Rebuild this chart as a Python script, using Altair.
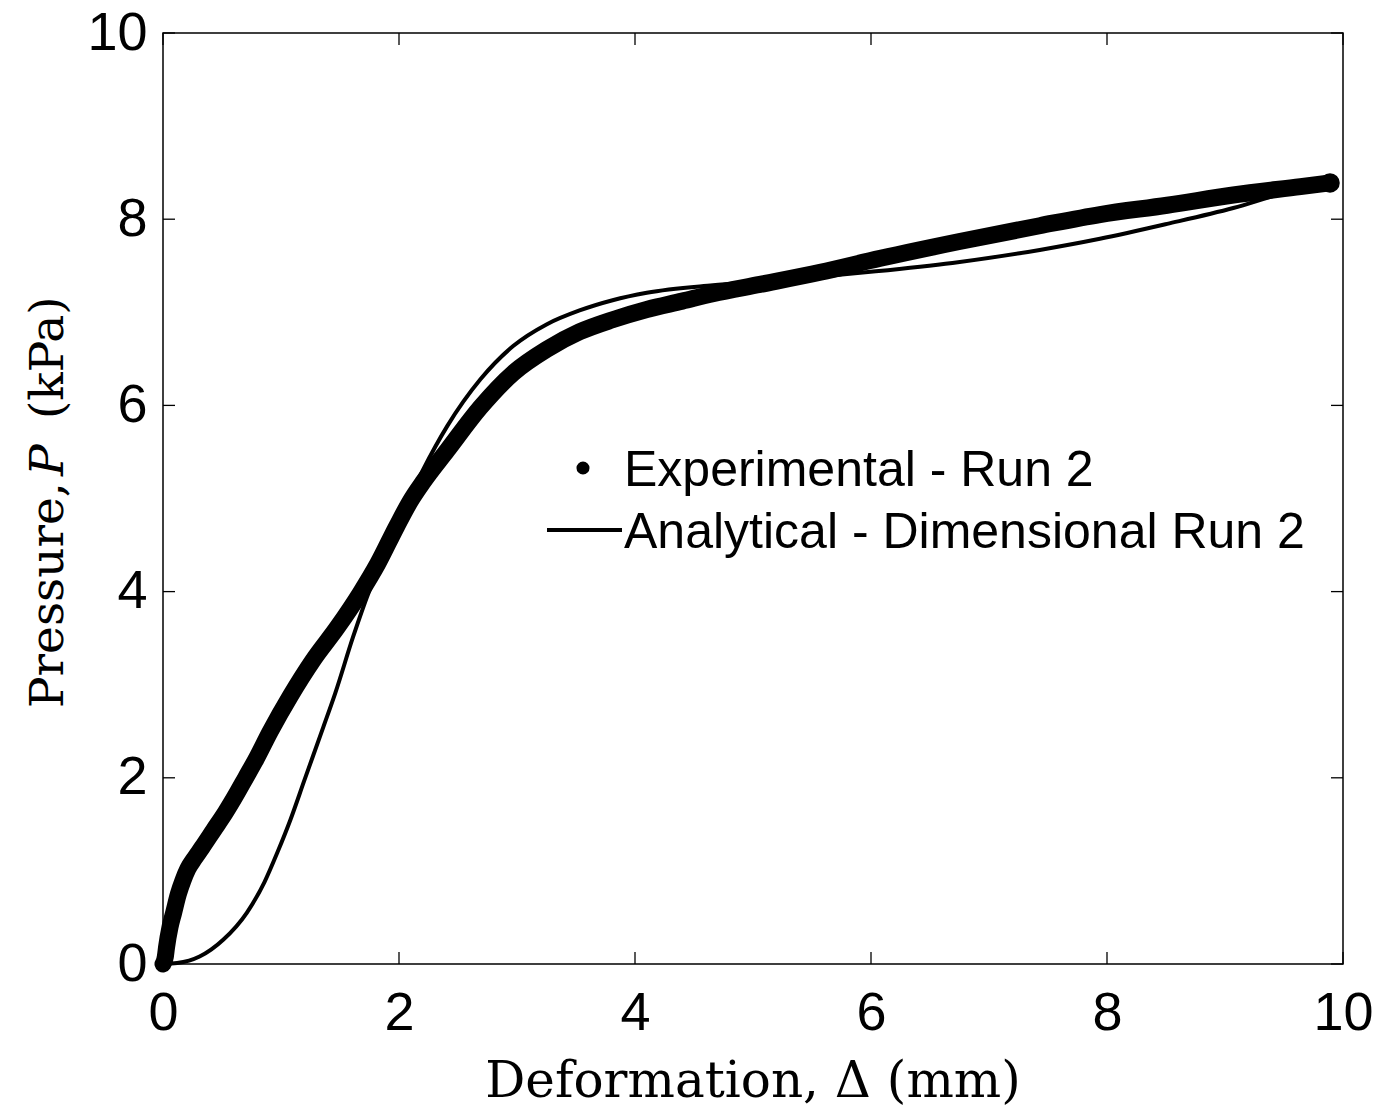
import altair as alt
import pandas as pd

# Measured pressure-deformation response (run 2)
exp_x = [0.00, 0.02, 0.03, 0.06, 0.09, 0.13, 0.17, 0.21, 0.27, 0.33, 0.43, 0.53,
         0.62, 0.70, 0.78, 0.91, 1.08, 1.27, 1.48, 1.67, 1.82, 1.98, 2.10, 2.20,
         2.41, 2.69, 2.97, 3.25, 3.53, 3.81, 4.10, 4.40, 4.66, 5.06, 5.57, 6.08,
         6.75, 7.43, 7.94, 8.51, 9.07, 9.64, 9.89]
exp_p = [0.00, 0.08, 0.18, 0.40, 0.55, 0.75, 0.90, 1.02, 1.14, 1.25, 1.44, 1.63,
         1.82, 2.00, 2.18, 2.50, 2.88, 3.26, 3.62, 3.98, 4.30, 4.70, 4.98, 5.17,
         5.52, 5.98, 6.35, 6.60, 6.79, 6.92, 7.03, 7.12, 7.20, 7.30, 7.43, 7.58,
         7.76, 7.93, 8.05, 8.15, 8.26, 8.35, 8.39]

# Dimensional analytical prediction (run 2)
ana_x = [0.00, 0.12, 0.31, 0.51, 0.71, 0.86, 0.97, 1.08, 1.20, 1.36, 1.46, 1.61,
         1.74, 1.86, 2.01, 2.20, 2.41, 2.69, 2.97, 3.25, 3.53, 3.81, 4.10, 4.66,
         5.06, 5.57, 6.04, 6.69, 7.43, 7.94, 8.51, 9.07, 9.53, 9.60]
ana_p = [0.00, 0.01, 0.08, 0.26, 0.55, 0.88, 1.20, 1.55, 1.98, 2.55, 2.91, 3.51,
         3.98, 4.34, 4.80, 5.30, 5.78, 6.28, 6.64, 6.87, 7.02, 7.13, 7.21, 7.29,
         7.33, 7.385, 7.44, 7.53, 7.67, 7.79, 7.95, 8.12, 8.29, 8.31]

tick_values = [0, 2, 4, 6, 8, 10]
legend_labels = ["Experimental - Run 2", "Analytical - Dimensional Run 2"]
x_title = "Deformation, \u0394 (mm)"
y_title_parts = ["Pressure,", "P", "(kPa)"]

W, H = 1180, 931
TICK = 12
SANS = "Liberation Sans, Arial, Helvetica, sans-serif"
SERIF = "DejaVu Serif, serif"

exp_df = pd.DataFrame({"x": exp_x, "p": exp_p})
ana_df = pd.DataFrame({"x": ana_x, "p": ana_p})
tick_df = pd.DataFrame({"v": tick_values})
one = pd.DataFrame({"k": [0]})

xs = alt.Scale(domain=[0, 10], nice=False, zero=False)
ys = alt.Scale(domain=[0, 10], nice=False, zero=False)

x_axis = alt.Axis(values=tick_values, tickSize=0, domain=False, grid=False,
                  labelFont=SANS, labelFontSize=54, labelColor="black",
                  labelPadding=22, labelFlush=False, labelOverlap=False,
                  labelBound=False, title=None, format="d")
y_axis = alt.Axis(values=tick_values, tickSize=0, domain=False, grid=False,
                  labelFont=SANS, labelFontSize=54, labelColor="black",
                  labelPadding=16, labelFlush=False, labelOverlap=False,
                  labelBound=False, title=None, format="d")

exp_line = alt.Chart(exp_df).mark_line(
    color="black", strokeWidth=17, strokeCap="round", strokeJoin="round",
    interpolate="monotone"
).encode(
    x=alt.X("x:Q", scale=xs, axis=x_axis),
    y=alt.Y("p:Q", scale=ys, axis=y_axis),
)

exp_pts = alt.Chart(exp_df).mark_circle(color="black", opacity=1, size=220).encode(
    x=alt.X("x:Q", scale=xs), y=alt.Y("p:Q", scale=ys)
)

exp_end = alt.Chart(exp_df.tail(1)).mark_circle(color="black", opacity=1, size=380).encode(
    x=alt.X("x:Q", scale=xs), y=alt.Y("p:Q", scale=ys)
)

ana_line = alt.Chart(ana_df).mark_line(
    color="black", strokeWidth=4, interpolate="monotone"
).encode(x=alt.X("x:Q", scale=xs), y=alt.Y("p:Q", scale=ys))

# inward ticks on all four sides of the box
tick_style = dict(color="black", strokeWidth=1.3)
t_bottom = alt.Chart(tick_df).mark_rule(**tick_style).encode(
    x=alt.X("v:Q", scale=xs), y=alt.value(H), y2=alt.value(H - TICK))
t_top = alt.Chart(tick_df).mark_rule(**tick_style).encode(
    x=alt.X("v:Q", scale=xs), y=alt.value(0), y2=alt.value(TICK))
t_left = alt.Chart(tick_df).mark_rule(**tick_style).encode(
    y=alt.Y("v:Q", scale=ys), x=alt.value(0), x2=alt.value(TICK))
t_right = alt.Chart(tick_df).mark_rule(**tick_style).encode(
    y=alt.Y("v:Q", scale=ys), x=alt.value(W), x2=alt.value(W - TICK))

# legend
leg_dot = alt.Chart(one).mark_circle(color="black", opacity=1, size=170).encode(
    x=alt.value(420), y=alt.value(435))
leg_line = alt.Chart(one).mark_rule(color="black", strokeWidth=4).encode(
    x=alt.value(384), x2=alt.value(459), y=alt.value(497))
leg_t1 = alt.Chart(one).mark_text(
    font=SANS, fontSize=50, align="left", baseline="alphabetic", color="black"
).encode(x=alt.value(461), y=alt.value(453), text=alt.value(legend_labels[0]))
leg_t2 = alt.Chart(one).mark_text(
    font=SANS, fontSize=50, align="left", baseline="alphabetic", color="black"
).encode(x=alt.value(461), y=alt.value(515), text=alt.value(legend_labels[1]))

# axis titles
xt = alt.Chart(one).mark_text(
    font=SERIF, fontSize=50, align="center", baseline="alphabetic", color="black"
).encode(x=alt.value(W / 2), y=alt.value(1064), text=alt.value(x_title))

ytitle_style = dict(font=SERIF, fontSize=47, align="left", baseline="alphabetic",
                    angle=270, color="black")
yt1 = alt.Chart(one).mark_text(**ytitle_style).encode(
    x=alt.value(-100), y=alt.value(675), text=alt.value(y_title_parts[0]))
yt2 = alt.Chart(one).mark_text(fontStyle="italic", **ytitle_style).encode(
    x=alt.value(-100), y=alt.value(443), text=alt.value(y_title_parts[1]))
yt3 = alt.Chart(one).mark_text(**ytitle_style).encode(
    x=alt.value(-100), y=alt.value(386), text=alt.value(y_title_parts[2]))

chart = alt.layer(
    exp_line, exp_pts, exp_end, ana_line,
    t_bottom, t_top, t_left, t_right,
    leg_dot, leg_line, leg_t1, leg_t2,
    xt, yt1, yt2, yt3,
).properties(
    width=W, height=H,
    padding={"left": 163, "top": 33, "right": 48, "bottom": 151},
    autosize=alt.AutoSizeParams(type="none"),
    background="white",
).configure_view(stroke="black", strokeWidth=1.5)

chart.save("out.html", embed_options={"renderer": "svg", "actions": False})
